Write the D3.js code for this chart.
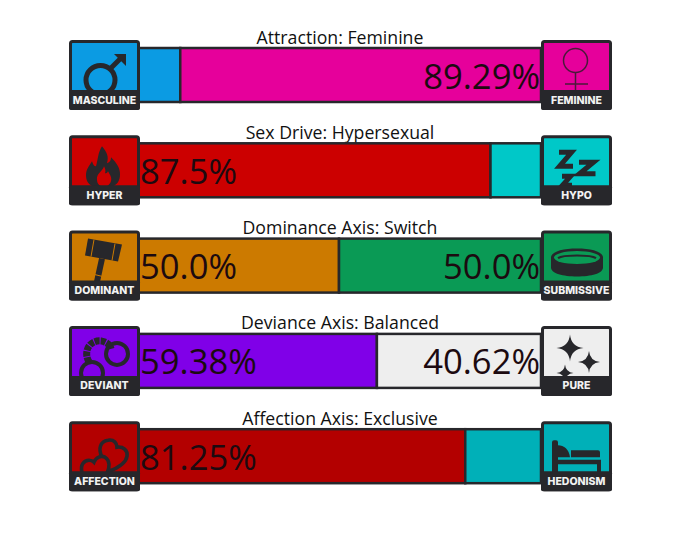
<!DOCTYPE html>
<html>
<head>
<meta charset="utf-8">
<script src="https://cdn.jsdelivr.net/npm/d3@7"></script>
<style>
  html, body { margin: 0; background: #fff; }
  svg { display: block; }
</style>
</head>
<body>
<div id="chart"></div>
<script>
// values
var titles = ["Attraction: Feminine", "Sex Drive: Hypersexual", "Dominance Axis: Switch", "Deviance Axis: Balanced", "Affection Axis: Exclusive"];
var leftNames = ["MASCULINE", "HYPER", "DOMINANT", "DEVIANT", "AFFECTION"];
var rightNames = ["FEMININE", "HYPO", "SUBMISSIVE", "PURE", "HEDONISM"];
var leftValues = [10.71, 87.5, 50.0, 59.38, 81.25];
var rightValues = [89.29, 12.5, 50.0, 40.62, 18.75];
var leftColors = ["#0b9be3", "#cc0000", "#cc7a00", "#8000e8", "#b30000"];
var rightColors = ["#e6009b", "#00c8c8", "#0a9a55", "#eeeeee", "#00b0b8"];

var svgWidth = 680;
var svgHeight = 533;
var dark = "#27272b";

var svg = d3.select("#chart")
  .append("svg")
  .attr("width", svgWidth)
  .attr("height", svgHeight);

var x = d3.scaleLinear().domain([0, 100]).range([137, 541]);
var y = d3.scaleBand().domain(d3.range(titles.length)).range([40, 516.5]).paddingInner(0);

var rows = svg.selectAll(".row")
  .data(titles)
  .enter()
  .append("g")
  .attr("class", "row")
  .attr("transform", (d, i) => `translate(0, ${y(i)})`);

// title over each bar
rows.append("text")
  .attr("x", 340)
  .attr("y", 3.5)
  .attr("text-anchor", "middle")
  .style("font-family", "'Open Sans'")
  .style("font-size", "17.7px")
  .style("fill", "#111")
  .text(d => d);

// bar segments
rows.append("rect")
  .attr("x", x(0))
  .attr("y", 8)
  .attr("width", (d, i) => x(leftValues[i]) - x(0))
  .attr("height", 54)
  .attr("fill", (d, i) => leftColors[i])
  .attr("stroke", dark)
  .attr("stroke-width", 2.5);

rows.append("rect")
  .attr("x", (d, i) => x(leftValues[i]))
  .attr("y", 8)
  .attr("width", (d, i) => x(100) - x(leftValues[i]))
  .attr("height", 54)
  .attr("fill", (d, i) => rightColors[i])
  .attr("stroke", dark)
  .attr("stroke-width", 2.5);

// percent labels, small segments get none
function pctText(v) {
  return Number.isInteger(v) ? v.toFixed(1) + "%" : v + "%";
}

rows.filter((d, i) => leftValues[i] > 20).append("text")
  .attr("x", 140)
  .attr("y", 48.5)
  .style("font-family", "'Open Sans'")
  .style("font-size", "34.6px")
  .style("fill", "#1c0a10")
  .text(d => pctText(leftValues[titles.indexOf(d)]));

rows.filter((d, i) => rightValues[i] > 20).append("text")
  .attr("x", 540)
  .attr("y", 48.5)
  .attr("text-anchor", "end")
  .style("font-family", "'Open Sans'")
  .style("font-size", "34.6px")
  .style("fill", "#1c0a10")
  .text(d => pctText(rightValues[titles.indexOf(d)]));

// icons, drawn in a 71x70 box
function star(cx, cy, r) {
  var k = r * 0.09;
  return `M${cx},${cy - r}Q${cx + k},${cy - k} ${cx + r},${cy}Q${cx + k},${cy + k} ${cx},${cy + r}Q${cx - k},${cy + k} ${cx - r},${cy}Q${cx - k},${cy - k} ${cx},${cy - r}Z`;
}

var icons = {
  MASCULINE: function(g) {
    g.append("circle").attr("cx", 31.5).attr("cy", 40).attr("r", 14.5).attr("fill", "none").attr("stroke", dark).attr("stroke-width", 5);
    g.append("path").attr("d", "M41,29L53,17").attr("stroke", dark).attr("stroke-width", 5);
    g.append("path").attr("d", "M45,14L57,14L57,26Z").attr("fill", dark);
  },
  FEMININE: function(g) {
    g.append("circle").attr("cx", 34.5).attr("cy", 20.5).attr("r", 12).attr("fill", "none").attr("stroke", "#4a1a3a").attr("stroke-width", 1.5);
    g.append("path").attr("d", "M34.5,32.5V52M24,44H47").attr("fill", "none").attr("stroke", "#4a1a3a").attr("stroke-width", 1.5);
  },
  HYPER: function(g) {
    g.append("path").attr("fill", dark).attr("fill-rule", "evenodd")
      .attr("d", "M33,11C38,17 40,21 38,28C41,27 42,25 42,22C48,28 51,33 51,39C51,46 48,49 44,51H24C19,49 17,45 17,40C17,34 20,31 23,26C24,29 25,31 27,31C29,24 29,17 33,11ZM35,31C34,36 27,38 28,45C28,48 30,50 32,51H38C41,49 43,46 42,42C41,39 40,38 39,36C38,38 37,38 36,38C37,35 36,33 35,31Z");
  },
  HYPO: function(g) {
    g.selectAll(".z")
      .data(["M18,17H30.5L18.5,31H32", "M38,27H52.5L38.5,38.5H54.5", "M21,41H29.5L21.5,50H31"])
      .enter().append("path")
      .attr("d", d => d).attr("fill", "none").attr("stroke", dark).attr("stroke-width", 5);
  },
  DOMINANT: function(g) {
    g.append("path").attr("d", "M33,28L28,51").attr("stroke", dark).attr("stroke-width", 6);
    g.append("path").attr("fill", dark).attr("d", "M19,8L53,14L49,31L16,25Z");
    g.append("path").attr("d", "M25,9L22,26M46,13L43,30").attr("stroke", "#cc7a00").attr("stroke-width", 1);
    g.append("path").attr("d", "M26,44L34,46").attr("stroke", "#cc7a00").attr("stroke-width", 1);
  },
  SUBMISSIVE: function(g) {
    g.append("path").attr("fill", dark).attr("d", "M10,27C10,21 22,18 36,18C50,18 62,21 62,27V37C62,43 50,46 36,46C22,46 10,43 10,37Z");
    g.append("ellipse").attr("cx", 36).attr("cy", 27).attr("rx", 23).attr("ry", 6.5).attr("fill", "#0a9a55");
    g.append("path").attr("d", "M17,27.5C22,24 50,24 55,27.5").attr("fill", "none").attr("stroke", dark).attr("stroke-width", 2);
  },
  DEVIANT: function(g) {
    g.append("circle").attr("cx", 48).attr("cy", 28).attr("r", 11).attr("fill", "none").attr("stroke", dark).attr("stroke-width", 4);
    g.append("circle").attr("cx", 23).attr("cy", 47).attr("r", 11).attr("fill", "none").attr("stroke", dark).attr("stroke-width", 4);
    g.append("path").attr("d", "M20,36C14,26 20,14 32,15C38,16 41,19 42,23").attr("fill", "none").attr("stroke", dark).attr("stroke-width", 7).attr("stroke-dasharray", "5 1");
  },
  PURE: function(g) {
    g.selectAll(".star")
      .data([star(29, 22, 13.5), star(48, 36, 11), star(24, 47, 8.5)])
      .enter().append("path")
      .attr("d", d => d).attr("fill", dark);
  },
  AFFECTION: function(g) {
    g.append("path").attr("fill", "none").attr("stroke", dark).attr("stroke-width", 3.6)
      .attr("d", "M33,36C29,28 31,20 39,19C45,18 48,22 48,26C54,25 59,29 58,35C57,42 48,47 40,50");
    g.append("path").attr("fill", "none").attr("stroke", dark).attr("stroke-width", 3.6)
      .attr("d", "M13,51C11,44 15,39 20,39C22,39 24,40 25,41C27,36 32,34 36,36C41,39 41,46 38,52");
  },
  HEDONISM: function(g) {
    g.append("path").attr("fill", dark).attr("d", "M11,21Q11,19 13,19H15Q17,19 17,21V52H11Z");
    g.append("path").attr("fill", dark).attr("d", "M17,24C23,24 28,28 29,36H17Z");
    g.append("path").attr("fill", dark).attr("d", "M30,29H57Q59,29 59,31V36H30Z");
    g.append("path").attr("fill", dark).attr("d", "M17,38.5H60V52H56V43H17Z");
  }
};

function addBadge(selection, names, colors, left) {
  var badge = selection.append("g")
    .attr("transform", `translate(${left}, 0)`);

  badge.append("rect")
    .attr("x", 1.5).attr("y", 1.5)
    .attr("width", 68).attr("height", 67)
    .attr("rx", 2)
    .attr("fill", (d, i) => colors[titles.indexOf(d)])
    .attr("stroke", dark)
    .attr("stroke-width", 3);

  badge.each(function(d) {
    icons[names[titles.indexOf(d)]](d3.select(this));
  });

  // dark band covers the bottom of the icon
  badge.append("rect")
    .attr("x", 0).attr("y", 50)
    .attr("width", 71).attr("height", 20)
    .attr("rx", 2)
    .attr("fill", dark);

  badge.append("text")
    .attr("x", 35.5)
    .attr("y", 63.5)
    .attr("text-anchor", "middle")
    .style("font-family", "Inter")
    .style("font-weight", 800)
    .style("font-size", "10.5px")
    .style("fill", "#f2f2f2")
    .text(d => names[titles.indexOf(d)]);
}

addBadge(rows, leftNames, leftColors, 69);
addBadge(rows, rightNames, rightColors, 541);
</script>
</body>
</html>
